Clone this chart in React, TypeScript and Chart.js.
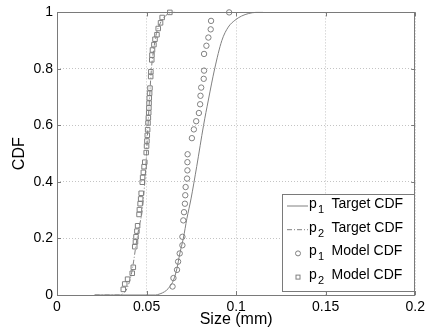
import { useEffect, useRef } from "react";
import { Chart, registerables } from "chart.js";

Chart.register(...registerables);

// ---- Data ----
const xTickValues = [0, 0.05, 0.1, 0.15, 0.2];
const xTickLabels = ["0", "0.05", "0.1", "0.15", "0.2"];
const yTickValues = [0, 0.2, 0.4, 0.6, 0.8, 1];
const yTickLabels = ["0", "0.2", "0.4", "0.6", "0.8", "1"];

const p1TargetX = [0.021, 0.055, 0.057, 0.059, 0.061, 0.063, 0.065, 0.067, 0.0685, 0.0705, 0.0725, 0.0748, 0.078, 0.0818, 0.0845, 0.088, 0.092, 0.0956, 0.0993, 0.103, 0.107, 0.111, 0.115];
const p1TargetY = [0, 0, 0.003, 0.008, 0.016, 0.03, 0.052, 0.095, 0.145, 0.2, 0.27, 0.34, 0.455, 0.6, 0.69, 0.8, 0.9, 0.948, 0.972, 0.987, 0.996, 1, 1];

const p2TargetX = [0.021, 0.035, 0.037, 0.039, 0.0413, 0.0428, 0.044, 0.0455, 0.0477, 0.049, 0.05, 0.0508, 0.0517, 0.0527, 0.054, 0.0555, 0.0575, 0.0598, 0.062, 0.0635, 0.066];
const p2TargetY = [0, 0, 0.006, 0.022, 0.068, 0.12, 0.173, 0.23, 0.305, 0.4, 0.5, 0.6, 0.7, 0.8, 0.87, 0.925, 0.96, 0.983, 0.995, 1, 1];

const p1ModelX = [0.0645, 0.065, 0.067, 0.0676, 0.0685, 0.07, 0.07, 0.0705, 0.0709, 0.0714, 0.0716, 0.0718, 0.0726, 0.0728, 0.0728, 0.0729, 0.0753, 0.0764, 0.0777, 0.0792, 0.0799, 0.0801, 0.0805, 0.0819, 0.0821, 0.0821, 0.0834, 0.0845, 0.0858, 0.086, 0.0961];
const p1ModelY = [0.03, 0.06, 0.089, 0.118, 0.147, 0.176, 0.206, 0.264, 0.293, 0.323, 0.353, 0.382, 0.412, 0.441, 0.47, 0.498, 0.555, 0.586, 0.615, 0.644, 0.675, 0.705, 0.734, 0.765, 0.794, 0.853, 0.882, 0.911, 0.94, 0.97, 1.0];

const p2ModelX = [0.037, 0.0378, 0.0394, 0.042, 0.0426, 0.0434, 0.0438, 0.0441, 0.0446, 0.045, 0.0458, 0.046, 0.0464, 0.0467, 0.047, 0.0476, 0.0478, 0.0482, 0.0486, 0.049, 0.0498, 0.05, 0.0502, 0.0504, 0.0506, 0.0508, 0.051, 0.0512, 0.0513, 0.0514, 0.0515, 0.0517, 0.0519, 0.0523, 0.0524, 0.0529, 0.053, 0.0533, 0.0541, 0.0547, 0.0558, 0.0565, 0.0578, 0.0587, 0.063];
const p2ModelY = [0.02, 0.039, 0.056, 0.077, 0.098, 0.171, 0.188, 0.206, 0.226, 0.245, 0.285, 0.302, 0.323, 0.34, 0.36, 0.399, 0.416, 0.434, 0.454, 0.47, 0.504, 0.527, 0.545, 0.565, 0.585, 0.609, 0.627, 0.645, 0.662, 0.679, 0.697, 0.714, 0.732, 0.773, 0.79, 0.832, 0.849, 0.867, 0.886, 0.905, 0.921, 0.943, 0.963, 0.982, 1.0];

const seriesBase = ["p", "p", "p", "p"];
const seriesSub = ["1", "2", "1", "2"];
const seriesText = ["Target CDF", "Target CDF", "Model CDF", "Model CDF"];

const xTitle = "Size (mm)";
const yTitle = "CDF";

const toPoints = (xs: number[], ys: number[]) => xs.map((x, i) => ({ x, y: ys[i] }));

const FONT = '"Liberation Sans", Arial, sans-serif';
const GRAY = "#808080";
const FRAME = "#7a7a7a";

const framePlugin = {
  id: "matlabFrameLegend",
  afterDatasetsDraw(chart: any) {
    const { ctx, chartArea } = chart;
    const xs = chart.scales.x;
    const ys = chart.scales.y;
    const { left, right, top, bottom } = chartArea;
    ctx.save();
    // frame
    ctx.strokeStyle = FRAME;
    ctx.lineWidth = 1;
    ctx.setLineDash([]);
    ctx.strokeRect(Math.round(left) + 0.5, Math.round(top) + 0.5, Math.round(right - left) - 1, Math.round(bottom - top));
    // inner ticks
    const tl = 4;
    ctx.beginPath();
    xTickValues.forEach((v) => {
      const px = Math.round(xs.getPixelForValue(v)) + 0.5;
      ctx.moveTo(px, bottom);
      ctx.lineTo(px, bottom - tl);
      ctx.moveTo(px, top);
      ctx.lineTo(px, top + tl);
    });
    yTickValues.forEach((v) => {
      const py = Math.round(ys.getPixelForValue(v)) + 0.5;
      ctx.moveTo(left, py);
      ctx.lineTo(left + tl, py);
      ctx.moveTo(right, py);
      ctx.lineTo(right - tl, py);
    });
    ctx.stroke();

    // legend
    const w = 133;
    const h = 98;
    const x0 = Math.round(right) - w;
    const y0 = Math.round(bottom) - 3 - h;
    ctx.fillStyle = "#ffffff";
    ctx.fillRect(x0, y0, w, h);
    ctx.strokeStyle = FRAME;
    ctx.strokeRect(x0 + 0.5, y0 + 0.5, w - 1, h - 1);
    const datasets = chart.data.datasets;
    for (let i = 0; i < 4; i++) {
      const cy = y0 + 12 + i * 23.7;
      const ds = datasets[i];
      ctx.strokeStyle = GRAY;
      ctx.lineWidth = 1;
      if (i < 2) {
        ctx.setLineDash(ds.borderDash || []);
        ctx.beginPath();
        ctx.moveTo(x0 + 5, cy);
        ctx.lineTo(x0 + 26, cy);
        ctx.stroke();
        ctx.setLineDash([]);
      } else if (i === 2) {
        ctx.beginPath();
        ctx.arc(x0 + 16, cy, 2.5, 0, Math.PI * 2);
        ctx.stroke();
      } else {
        ctx.strokeRect(x0 + 14, cy - 2, 4, 4);
      }
      const ty = cy - 2;
      ctx.fillStyle = "#000";
      ctx.textBaseline = "middle";
      ctx.textAlign = "left";
      ctx.font = `14px ${FONT}`;
      ctx.fillText(seriesBase[i], x0 + 27, ty);
      ctx.font = `11px ${FONT}`;
      ctx.fillText(seriesSub[i], x0 + 36, ty + 6);
      ctx.font = `14px ${FONT}`;
      ctx.fillText(seriesText[i], x0 + 49.5, ty);
    }
    ctx.restore();
  },
};

export default function App() {
  const ref = useRef<HTMLCanvasElement | null>(null);
  useEffect(() => {
    if (!ref.current) return;
    const chart = new Chart(ref.current, {
      type: "scatter",
      data: {
        datasets: [
          {
            label: "p1 Target CDF",
            data: toPoints(p1TargetX, p1TargetY),
            showLine: true,
            borderColor: GRAY,
            borderWidth: 1,
            pointRadius: 0,
            cubicInterpolationMode: "monotone",
            clip: false,
          },
          {
            label: "p2 Target CDF",
            data: toPoints(p2TargetX, p2TargetY),
            showLine: true,
            borderColor: GRAY,
            borderWidth: 1,
            borderDash: [5, 2, 1, 2],
            pointRadius: 0,
            cubicInterpolationMode: "monotone",
            clip: false,
          },
          {
            label: "p1 Model CDF",
            data: toPoints(p1ModelX, p1ModelY),
            showLine: false,
            pointStyle: "circle",
            pointRadius: 2.7,
            pointBorderWidth: 1,
            pointBorderColor: GRAY,
            pointBackgroundColor: "rgba(0,0,0,0)",
            clip: false,
          },
          {
            label: "p2 Model CDF",
            data: toPoints(p2ModelX, p2ModelY),
            showLine: false,
            pointStyle: "rect",
            pointRadius: 3.2,
            pointBorderWidth: 1,
            pointBorderColor: GRAY,
            pointBackgroundColor: "rgba(0,0,0,0)",
            clip: false,
          },
        ] as any,
      },
      options: {
        animation: false,
        responsive: false,
        layout: { padding: { left: 0, right: 10, top: 10, bottom: 0 } },
        plugins: { legend: { display: false }, tooltip: { enabled: false } },
        scales: {
          x: {
            type: "linear",
            min: 0,
            max: 0.2,
            afterBuildTicks: (s: any) => {
              s.ticks = xTickValues.map((v) => ({ value: v }));
            },
            afterFit: (s: any) => {
              s.height = 37;
            },
            ticks: {
              callback: (_v: any, i: number) => xTickLabels[i],
              color: "#000",
              font: { family: FONT, size: 14 },
              padding: 4,
              maxRotation: 0,
              autoSkip: false,
            },
            grid: { color: "#c4c4c4", drawTicks: false, lineWidth: 1 },
            border: { display: false, dash: [1, 2] },
            title: {
              display: true,
              text: xTitle,
              color: "#000",
              font: { family: FONT, size: 16 },
              padding: { top: 0, bottom: 3 },
            },
          },
          y: {
            type: "linear",
            min: 0,
            max: 1,
            afterBuildTicks: (s: any) => {
              s.ticks = yTickValues.map((v) => ({ value: v }));
            },
            afterFit: (s: any) => {
              s.width = 57;
            },
            ticks: {
              callback: (_v: any, i: number) => yTickLabels[i],
              color: "#000",
              font: { family: FONT, size: 14 },
              padding: 4,
              autoSkip: false,
            },
            grid: { color: "#c4c4c4", drawTicks: false, lineWidth: 1 },
            border: { display: false, dash: [1, 2] },
            title: {
              display: true,
              text: yTitle,
              color: "#000",
              font: { family: FONT, size: 16 },
              padding: { top: 10, bottom: 0 },
            },
          },
        },
      } as any,
      plugins: [framePlugin],
    });
    return () => chart.destroy();
  }, []);
  return (
    <div style={{ position: "fixed", left: 0, top: 0, width: 429, height: 332, background: "#fff" }}>
      <canvas ref={ref} width={429} height={332} style={{ display: "block" }} />
    </div>
  );
}
